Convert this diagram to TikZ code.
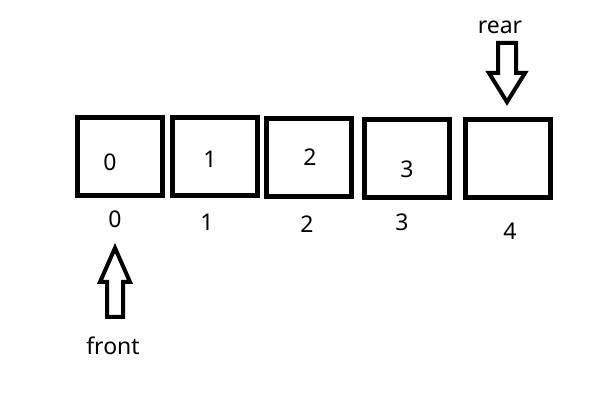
\documentclass[tikz,border=0pt]{standalone}
\usepackage{fontspec}
\setmainfont{Noto Sans}
\begin{document}
\begin{tikzpicture}[x=1pt,y=-1pt,
  cell/.style={draw=black,line width=5pt,minimum width=85pt,minimum height=78pt,inner sep=0pt},
  txt/.style={font=\fontsize{23}{26}\selectfont,inner sep=0pt},
  hollow/.style={draw=black,line width=4pt,line join=miter,fill=white}]
\useasboundingbox (0,0) rectangle (597,403);
\node[cell] (b0) at (120.25,156.75) {};
\node[cell] (b1) at (215,156.75) {};
\node[cell] (b2) at (308.75,157.5) {};
\node[cell] (b3) at (407,158.5) {};
\node[cell] (b4) at (507.5,158.5) {};
\node[txt] (v0) at (110,162) {0};
\node[txt] (v1) at (210,159) {1};
\node[txt] (v2) at (310,157) {2};
\node[txt] (v3) at (407,169) {3};
\node[txt] (i0) at (115,219) {0};
\node[txt] (i1) at (207,222) {1};
\node[txt] (i2) at (307,224) {2};
\node[txt] (i3) at (402,222) {3};
\node[txt] (i4) at (510,231) {4};
\node[txt] (rear) at (500,27) {rear};
\node[txt] (front) at (113,346) {front};
% rear arrow (pointing down)
\draw[hollow] (498,43) -- (516,43) -- (516,73) -- (525,73) -- (507,102) -- (489,73) -- (498,73) -- cycle;
% front arrow (pointing up)
\draw[hollow] (107,317) -- (123,317) -- (123,282) -- (130,282) -- (115,248) -- (100,282) -- (107,282) -- cycle;
\end{tikzpicture}
\end{document}
